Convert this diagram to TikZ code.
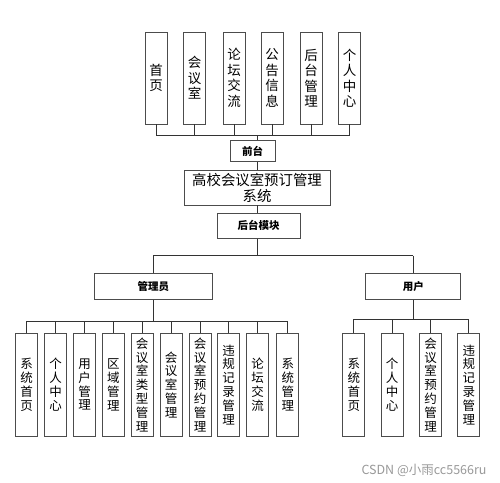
\documentclass[tikz,border=0pt]{standalone}
\usepackage{fontspec}
\setmainfont{Noto Sans CJK SC}
\begin{document}
\begin{tikzpicture}[x=1pt,y=-1pt,
  box/.style={draw=black!70, line width=0.8pt, inner sep=0pt, align=center},
  topbox/.style={box, minimum width=22pt, minimum height=92pt, font=\fontsize{13.5}{15.5}\selectfont},
  botbox/.style={box, minimum width=22pt, minimum height=103pt, font=\fontsize{12.5}{13.8}\selectfont},
  headbox/.style={box, font=\bfseries\fontsize{10.5}{12}\selectfont},
  conn/.style={draw=black!80, line width=0.8pt}]
\useasboundingbox[fill=white] (0,0) rectangle (500,482);
% top modules
\node[topbox] (t1) at (156,78) {首\\页};
\node[topbox] (t2) at (194.7,78) {会\\议\\室};
\node[topbox] (t3) at (234,78) {论\\坛\\交\\流};
\node[topbox] (t4) at (272,78) {公\\告\\信\\息};
\node[topbox] (t5) at (311,78) {后\\台\\管\\理};
\node[topbox] (t6) at (349.5,78) {个\\人\\中\\心};
\node[headbox, minimum width=45pt, minimum height=21pt] (qt) at (252.5,151.2) {前台};
\node[box, minimum width=146pt, minimum height=35pt, font=\fontsize{14.4}{16}\selectfont] (sys) at (257,187.5) {高校会议室预订管理\\系统};
\node[headbox, minimum width=83pt, minimum height=25pt] (ht) at (258.7,225.8) {后台模块};
\node[headbox, minimum width=118pt, minimum height=26pt] (adm) at (153.3,286.3) {管理员};
\node[headbox, minimum width=95pt, minimum height=26pt] (usr) at (413.3,286.3) {用户};
% admin modules
\node[botbox] (a1) at (26.7,384.7) {系\\统\\首\\页};
\node[botbox] (a2) at (55.5,384.7) {个\\人\\中\\心};
\node[botbox] (a3) at (84.5,384.7) {用\\户\\管\\理};
\node[botbox] (a4) at (113.3,384.7) {区\\域\\管\\理};
\node[botbox] (a5) at (142,384.7) {会\\议\\室\\类\\型\\管\\理};
\node[botbox] (a6) at (171,384.7) {会\\议\\室\\管\\理};
\node[botbox] (a7) at (200,384.7) {会\\议\\室\\预\\约\\管\\理};
\node[botbox] (a8) at (228.7,384.7) {违\\规\\记\\录\\管\\理};
\node[botbox] (a9) at (257.7,384.7) {论\\坛\\交\\流};
\node[botbox] (a10) at (287.8,384.7) {系\\统\\管\\理};
% user modules
\node[botbox] (u1) at (353.8,384.7) {系\\统\\首\\页};
\node[botbox] (u2) at (392.2,384.7) {个\\人\\中\\心};
\node[botbox] (u3) at (430.5,384.7) {会\\议\\室\\预\\约\\管\\理};
\node[botbox] (u4) at (468.8,384.7) {违\\规\\记\\录\\管\\理};
% bus coordinates
\coordinate (topbus) at (257.7,135);
\coordinate (midbus) at (257.7,255.7);
\coordinate (admbus) at (153.3,321);
\coordinate (usrbus) at (413.3,319);
% top connectors
\foreach \n in {t1,t2,t3,t4,t5,t6} \draw[conn] (\n.south) -- (\n.south |- topbus);
\draw[conn] (t1.south |- topbus) -- (t6.south |- topbus);
\draw[conn] (topbus) -- (topbus |- qt.north);
\draw[conn] (topbus |- qt.south) -- (topbus |- sys.north);
\draw[conn] (topbus |- sys.south) -- (topbus |- ht.north);
\draw[conn] (ht.south -| midbus) -- (midbus);
\draw[conn] (adm.north |- midbus) -- (usr.north |- midbus);
\draw[conn] (adm.north |- midbus) -- (adm.north);
\draw[conn] (usr.north |- midbus) -- (usr.north);
% admin connectors
\draw[conn] (adm.south) -- (admbus);
\draw[conn] (a1.north |- admbus) -- (a10.north |- admbus);
\foreach \n in {a1,a2,a3,a4,a5,a6,a7,a8,a9,a10} \draw[conn] (\n.north |- admbus) -- (\n.north);
% user connectors
\draw[conn] (usr.south) -- (usrbus);
\draw[conn] (u1.north |- usrbus) -- (u4.north |- usrbus);
\foreach \n in {u1,u2,u3,u4} \draw[conn] (\n.north |- usrbus) -- (\n.north);
% watermark
\node[text=black!40, font=\fontsize{12.5}{14}\selectfont, inner sep=0pt] (wm) at (424,470) {CSDN @小雨cc5566ru};
\end{tikzpicture}
\end{document}
